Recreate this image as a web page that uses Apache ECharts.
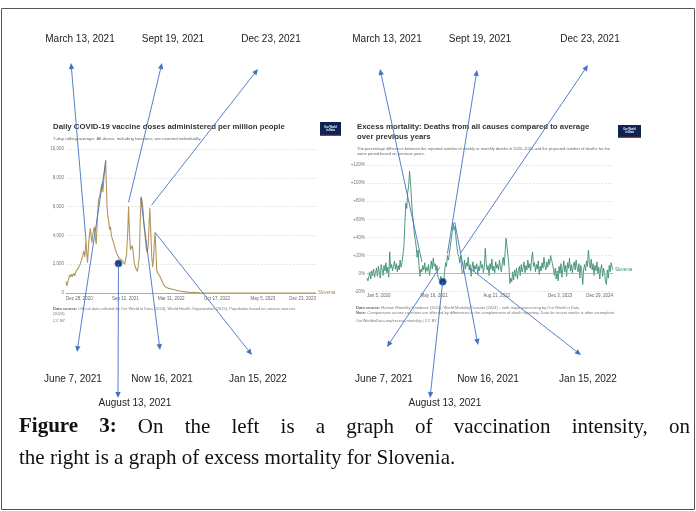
<!DOCTYPE html>
<html>
<head>
<meta charset="utf-8">
<script src="https://cdn.jsdelivr.net/npm/echarts@6/dist/echarts.min.js"></script>
<style>
html, body { margin: 0; padding: 0; background: #fff; }
#main { width: 696px; height: 511px; }
</style>
</head>
<body>
<div id="main"></div>
<script>
// left panel: daily vaccine doses per million (day 0 = Dec 27, 2020)
var leftDays = [0, 4, 8, 12, 16, 20, 24, 28, 33, 38, 44, 50, 56, 62, 68, 73, 78, 82, 87, 91,
    94, 100, 106, 110, 113, 118, 124, 128, 132, 137, 142, 147, 152, 157, 161, 165, 169, 173, 176, 179,
    183, 187, 190, 194, 198, 203, 208, 214, 220, 226, 232, 238, 244, 250, 256, 260, 264, 270, 273, 277,
    281, 285, 289, 292, 297, 302, 307, 312, 316, 320, 324, 328, 332, 336, 341, 346, 351, 355, 359, 363,
    366, 370, 374, 378, 382, 386, 389, 392, 396, 400, 404, 408, 414, 420, 425, 432, 440, 448, 455, 465,
    475, 484, 495, 505, 512, 530, 550, 570, 585, 600, 650, 700, 1091];
var leftDoses = [800, 500, 420, 1000, 1250, 1100, 1300, 1150, 1350, 1200, 1500, 1550, 1800, 2000, 2100, 2600, 2900, 2500, 3700, 2700,
    2100, 3700, 4500, 3900, 3500, 4200, 4600, 3800, 3400, 5200, 6500, 6700, 7200, 7600, 7000, 7900, 8500, 9200, 7600, 6000,
    5300, 4900, 4400, 4600, 4000, 3700, 3500, 3100, 2800, 2600, 2400, 2350, 2300, 2200, 2000, 2300, 2600, 4500, 6000, 4200,
    3000, 2900, 3300, 3000, 2200, 1800, 1700, 1500, 1400, 2500, 5000, 6700, 6400, 5800, 4600, 3800, 3000, 2800, 3400, 5000,
    5900, 4200, 2600, 1800, 2400, 3600, 4200, 3000, 1600, 1400, 1500, 1200, 1000, 800, 600, 450, 380, 320, 300, 260,
    220, 180, 140, 110, 90, 60, 40, 25, 10, 5, 2, 0, 0];
var leftTickDays = [0, 259, 459, 659, 859, 1091];
var leftTickLabels = ['Dec 28, 2020', 'Sep 12, 2021', 'Mar 31, 2022', 'Oct 17, 2022', 'May 5, 2023', 'Dec 23, 2023'];
var leftDot = [[229, 2050]];

// right panel: weekly excess mortality P-score, % (week 0 = Jan 5, 2020)
var rightScores = [
    -5, -8, -3, 2, -6, 3, -2, 5, -4, 1,
    6, -3, 8, 2, -5, 10, 4, -2, 9, 3,
    12, 1, 7, -4, 24, 6, 10, 3, 8, 14,
    5, 11, 2, 9, 4, 15, 7, 12,
    12, 30, 55, 78, 72, 89, 97, 113, 100, 82,
    66, 58, 44, 37, 30, 18, 26, 8, -3, 5,
    2, 9, 4, 12, 1, 7, 3, 10, -2, 6,
    14, 5, 17, 8, 11, 3, 9, -4, -2, -8,
    -3, -10, -6, -9, 2, 12, 8, 20, 15, 22,
    30, 28, 45, 56, 48, 52, 40, 30, 22, 19,
    12, 20, 6, 0, 3, 15, 5, 12, 8, 18,
    4, 10, -3, 7, 13, 2, 9, 5, 11, -1,
    8, 3, 14, 6, 10, 1, 7, 28, 12, 4,
    9, -2, 11, 5, 16, 3, 8, 1, 13, 6,
    10, 4, 15, 7, 2, 12, 18, 9, 24, 39,
    30, 20, 8, -11, -5, -9, 2, -7, 4, -3,
    6, -6, 3, 8, -2, 10, 2, 7, 13, 1,
    9, 4, 15, 6, 11, 3, 17, 24, 8, 12,
    2, 10, 5, 14, -1, 8, 3, 12, 6, 18,
    9, 4, 13, 7, 16, 10, 20, 22, 11, 5,
    -2, 6, -6, 3, -8, 8, 0, 11, -4, 5,
    14, 2, 9, -3, 12, 6, 17, 3, 10, 1,
    8, 13, 4, 15, 7, 2, 11, -5, 9, 3,
    -12, 5, 10, 3, 14, 8, 26, 12, 6, 16,
    4, 11, -2, 9, 3, 13, 0, 7, -6, 5,
    10, -3, 6, 1, -8, -12, 4, -5, 9, 2,
    12, 7, 4];
var rightTickWeeks = [0, 71, 137, 204, 260];
var rightTickLabels = ['Jan 5, 2020', 'May 16, 2021', 'Aug 21, 2022', 'Dec 3, 2023', 'Dec 29, 2024'];
var rightDot = [[80, -9]];

// annotations: label and the point of the curve the arrow starts from
var topLabels = ['March 13, 2021', 'Sept 19, 2021', 'Dec 23, 2021'];
var bottomLabels = ['June 7, 2021', 'Now 16, 2021', 'Jan 15, 2022', 'August 13, 2021'];
var leftTails = [[87, 3700], [273, 6300], [373, 6100], [174, 9200], [326, 6600], [389, 4200], [229, 2050]];
var rightTails = [[58, 13], [85, 22], [98.5, 22], [77, 7], [92.7, 57], [108.6, 6], [80, -9]];

var ARROW = '#4472c4';
var SANS = '"Liberation Sans", Arial, sans-serif';
var NOTE_FONT = '"Liberation Sans", sans-serif';
var SERIF = '"Liberation Serif", "DejaVu Serif", serif';

var chart = echarts.init(document.getElementById('main'));

function pairs(xs, ys) {
    return xs.map(function (x, i) { return [x, ys[i]]; });
}

chart.setOption({
    animation: false,
    backgroundColor: '#fff',
    grid: [
        {left: 66, top: 149, width: 250, height: 144},
        {left: 367, top: 165, width: 246, height: 126.7}
    ],
    xAxis: [{
        type: 'value', gridIndex: 0, min: 0, max: 1091,
        axisLine: {lineStyle: {color: '#999', width: 0.8}},
        axisTick: {show: false},
        splitLine: {show: false},
        axisLabel: {
            customValues: leftTickDays,
            formatter: function (v) { return leftTickLabels[leftTickDays.indexOf(v)]; },
            fontSize: 4.5, color: '#666', margin: 3, fontFamily: SANS,
            alignMinLabel: 'left', alignMaxLabel: 'right'
        }
    }, {
        type: 'value', gridIndex: 1, min: 0, max: 260,
        axisLine: {show: false},
        axisTick: {show: false},
        splitLine: {show: false},
        axisLabel: {
            customValues: rightTickWeeks,
            formatter: function (v) { return rightTickLabels[rightTickWeeks.indexOf(v)]; },
            fontSize: 4.5, color: '#666', margin: 2, fontFamily: SANS,
            alignMinLabel: 'left', alignMaxLabel: 'right'
        }
    }],
    yAxis: [{
        type: 'value', gridIndex: 0, min: 0, max: 10000, interval: 2000,
        axisLine: {show: false}, axisTick: {show: false},
        splitLine: {lineStyle: {color: '#d8d8d8', type: 'dashed', width: 0.6}},
        axisLabel: {fontSize: 4.5, color: '#777', margin: 2, fontFamily: SANS}
    }, {
        type: 'value', gridIndex: 1, min: -20, max: 120, interval: 20,
        axisLine: {show: false}, axisTick: {show: false},
        splitLine: {lineStyle: {color: '#d8d8d8', type: 'dashed', width: 0.6}},
        axisLabel: {
            fontSize: 4.5, color: '#777', margin: 2, fontFamily: SANS,
            formatter: function (v) { return (v > 0 ? '+' : '') + v + '%'; }
        }
    }],
    series: [{
        type: 'line', xAxisIndex: 0, yAxisIndex: 0,
        data: pairs(leftDays, leftDoses),
        showSymbol: false,
        lineStyle: {color: '#b4955c', width: 1.1},
        endLabel: {show: true, formatter: 'Slovenia', fontSize: 4.5, color: '#a08660', distance: 2}
    }, {
        type: 'scatter', xAxisIndex: 0, yAxisIndex: 0,
        data: leftDot, symbolSize: 7, z: 5,
        itemStyle: {color: '#1f3c75', borderColor: '#4a78c8', borderWidth: 1, opacity: 1}
    }, {
        type: 'line', xAxisIndex: 1, yAxisIndex: 1,
        data: rightScores.map(function (v, i) { return [i, v]; }),
        showSymbol: false,
        lineStyle: {color: '#3d8c72', width: 0.9},
        endLabel: {show: true, formatter: 'Slovenia', fontSize: 4.5, color: '#3d8c72', distance: 2},
        markLine: {
            silent: true, symbol: 'none', label: {show: false},
            lineStyle: {color: '#aaa', type: 'solid', width: 0.8},
            data: [{yAxis: 0}]
        }
    }, {
        type: 'scatter', xAxisIndex: 1, yAxisIndex: 1,
        data: rightDot, symbolSize: 7, z: 5,
        itemStyle: {color: '#1f3c75', borderColor: '#4a78c8', borderWidth: 1, opacity: 1}
    }]
});

function text(str, x, y, opt) {
    opt = opt || {};
    return {
        type: 'text', z: 50,
        style: {
            text: str, x: x, y: y,
            fill: opt.fill || '#222',
            fontSize: opt.size || 10,
            fontFamily: opt.family || NOTE_FONT,
            fontWeight: opt.weight || 'normal',
            align: opt.align || 'center',
            verticalAlign: 'middle',
            rich: opt.rich
        }
    };
}

function arrow(tail, head) {
    var dx = head[0] - tail[0], dy = head[1] - tail[1];
    var len = Math.sqrt(dx * dx + dy * dy);
    var ux = dx / len, uy = dy / len, hl = 6, hw = 2.7;
    var bx = head[0] - ux * hl, by = head[1] - uy * hl;
    return [{
        type: 'line', z: 100,
        shape: {x1: tail[0], y1: tail[1], x2: bx, y2: by},
        style: {stroke: ARROW, lineWidth: 0.9}
    }, {
        type: 'polygon', z: 100,
        shape: {points: [head, [bx - uy * hw, by + ux * hw], [bx + uy * hw, by - ux * hw]]},
        style: {fill: ARROW}
    }];
}

function logo(x, y, w, h) {
    return [{
        type: 'rect', z: 50, shape: {x: x, y: y, width: w, height: h},
        style: {fill: '#0b2452'}
    }, {
        type: 'rect', z: 51, shape: {x: x, y: y + h - 1.2, width: w, height: 1.2},
        style: {fill: '#ce261e'}
    }, text('Our World\nin Data', x + w / 2, y + h / 2 - 0.5, {size: 2.6, family: SANS, fill: '#fff', weight: 'bold'})];
}

// justified first caption line
function justified(words, boldCount, x0, x1, y, size) {
    var ctx = document.createElement('canvas').getContext('2d');
    var widths = words.map(function (w, i) {
        ctx.font = (i < boldCount ? 'bold ' : '') + size + 'px ' + SERIF;
        return ctx.measureText(w).width;
    });
    var total = widths.reduce(function (a, b) { return a + b; }, 0);
    var gap = (x1 - x0 - total) / (words.length - 1);
    var out = [], x = x0;
    words.forEach(function (w, i) {
        out.push(text(w, x, y, {size: size, family: SERIF, weight: i < boldCount ? 'bold' : 'normal', align: 'left', fill: '#111'}));
        x += widths[i] + gap;
    });
    return out;
}

var g = [];
g.push({
    type: 'rect', z: 1, shape: {x: 1.5, y: 8.5, width: 693, height: 501},
    style: {fill: 'none', stroke: '#555', lineWidth: 1}
});

// panel titles and notes
var small = {b: {fontWeight: 'bold', fontSize: 4, fontFamily: SANS, fill: '#666'}};
g.push(text('Daily COVID-19 vaccine doses administered per million people', 53, 127,
    {size: 7.8, family: SANS, weight: 'bold', align: 'left', fill: '#333'}));
g.push(text('7-day rolling average. All doses, including boosters, are counted individually.', 53, 138.3,
    {size: 4.4, family: SANS, align: 'left', fill: '#666'}));
g.push(text('{b|Data source:} Official data collated by Our World in Data (2024); World Health Organization (2025); Population based on various sources', 53, 309.3,
    {size: 4, family: SANS, align: 'left', fill: '#777', rich: small}));
g.push(text('(2024)', 53, 314.3, {size: 4, family: SANS, align: 'left', fill: '#777'}));
g.push(text('CC BY', 53, 321, {size: 4, family: SANS, align: 'left', fill: '#777'}));

g.push(text('Excess mortality: Deaths from all causes compared to average', 357, 126.7,
    {size: 7.8, family: SANS, weight: 'bold', align: 'left', fill: '#333'}));
g.push(text('over previous years', 357, 136.7,
    {size: 7.8, family: SANS, weight: 'bold', align: 'left', fill: '#333'}));
g.push(text('The percentage difference between the reported number of weekly or monthly deaths in 2020–2024 and the projected number of deaths for the', 357, 149,
    {size: 4, family: SANS, align: 'left', fill: '#666'}));
g.push(text('same period based on previous years.', 357, 154.3,
    {size: 4, family: SANS, align: 'left', fill: '#666'}));
g.push(text('{b|Data source:} Human Mortality Database (2024); World Mortality Dataset (2024) – with major processing by Our World in Data', 356, 307.7,
    {size: 4, family: SANS, align: 'left', fill: '#777', rich: small}));
g.push(text('{b|Note:} Comparisons across countries are affected by differences in the completeness of death reporting. Data for recent weeks is often incomplete.', 356, 312.7,
    {size: 4, family: SANS, align: 'left', fill: '#777', rich: small}));
g.push(text('OurWorldinData.org/excess-mortality | CC BY', 356, 321,
    {size: 4, family: SANS, align: 'left', fill: '#777'}));

g = g.concat(logo(320, 122, 21, 14), logo(618, 125, 23, 13));

// annotation labels and arrows
var topLeftPos = [[80, 39], [173, 39], [271, 39]];
var topRightPos = [[387, 39], [480, 39], [590, 39]];
var botLeftPos = [[73, 379], [162, 379], [258, 379], [135, 403]];
var botRightPos = [[384, 379], [488, 379], [588, 379], [445, 403]];
var leftHeads = [[71, 63], [162, 63], [258, 69], [77, 352], [160, 350], [252, 355], [118, 398]];
var rightHeads = [[380, 69], [477, 70], [588, 65], [387, 347], [478, 345], [581, 355], [430, 398]];

topLabels.forEach(function (s, i) {
    g.push(text(s, topLeftPos[i][0], topLeftPos[i][1]));
    g.push(text(s, topRightPos[i][0], topRightPos[i][1]));
});
bottomLabels.forEach(function (s, i) {
    g.push(text(s, botLeftPos[i][0], botLeftPos[i][1]));
    g.push(text(s, botRightPos[i][0], botRightPos[i][1]));
});
leftTails.forEach(function (p, i) {
    var px = chart.convertToPixel({xAxisIndex: 0, yAxisIndex: 0}, p);
    g = g.concat(arrow(px, leftHeads[i]));
});
rightTails.forEach(function (p, i) {
    var px = chart.convertToPixel({xAxisIndex: 1, yAxisIndex: 1}, p);
    g = g.concat(arrow(px, rightHeads[i]));
});

// caption
g = g.concat(justified(['Figure', '3:', 'On', 'the', 'left', 'is', 'a', 'graph', 'of', 'vaccination', 'intensity,', 'on'],
    2, 19, 690, 427, 21));
g.push(text('the right is a graph of excess mortality for Slovenia.', 19, 458,
    {size: 21, family: SERIF, align: 'left', fill: '#111'}));

chart.setOption({graphic: g});
</script>
</body>
</html>
